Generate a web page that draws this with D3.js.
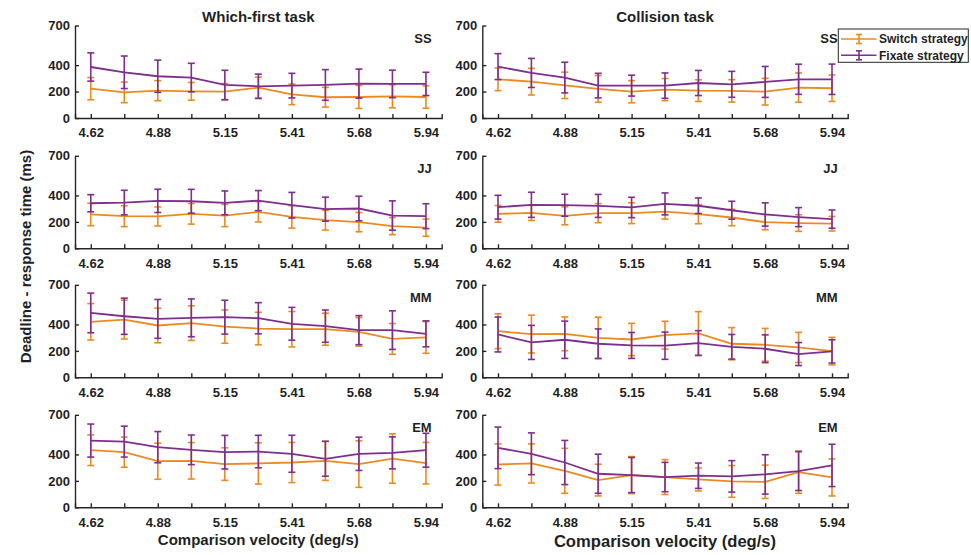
<!DOCTYPE html>
<html>
<head>
<meta charset="utf-8">
<script src="https://cdn.jsdelivr.net/npm/d3@7"></script>
<style>
  html, body { margin: 0; padding: 0; background: #fff; }
  svg text { font-family: "Liberation Sans", Arial, sans-serif; font-weight: bold; fill: #1f1f1f; }
</style>
</head>
<body>
<svg id="chart" width="971" height="555"></svg>
<script>
// Comparison velocities (deg/s) and axis ticks
const velocities = [4.62, 4.75, 4.88, 5.02, 5.15, 5.28, 5.41, 5.55, 5.68, 5.81, 5.94];
const xTickLabels = ["4.62", "4.88", "5.15", "5.41", "5.68", "5.94"];
const yTicks = [0, 200, 400, 700];
const subjects = ["SS", "JJ", "MM", "EM"];
const tasks = ["Which-first task", "Collision task"];
const seriesNames = ["Switch strategy", "Fixate strategy"];

// Which-first task: mean and error (ms)
const wfSSSwitch = [222, 194, 207, 202, 199, 230, 179, 157, 159, 164, 159];
const wfSSSwitchErr = [84, 78, 76, 67, 62, 80, 78, 75, 87, 87, 85];
const wfSSFixate = [386, 346, 316, 306, 250, 240, 245, 250, 260, 258, 258];
const wfSSFixateErr = [107, 123, 122, 108, 111, 92, 93, 116, 110, 104, 88];

const wfJJSwitch = [256, 243, 241, 261, 248, 276, 238, 213, 198, 168, 156];
const wfJJSwitchErr = [85, 79, 72, 78, 84, 77, 85, 75, 73, 65, 65];
const wfJJFixate = [341, 346, 359, 356, 344, 361, 326, 296, 301, 248, 243];
const wfJJFixateErr = [65, 93, 88, 90, 90, 76, 97, 91, 93, 111, 94];

const wfMMSwitch = [420, 437, 392, 410, 384, 369, 364, 364, 344, 291, 302];
const wfMMSwitchErr = [138, 147, 131, 131, 126, 123, 134, 121, 108, 116, 120];
const wfMMFixate = [487, 462, 442, 450, 455, 447, 405, 387, 357, 357, 329];
const wfMMFixateErr = [150, 137, 147, 143, 128, 118, 124, 122, 110, 146, 98];

const wfEMSwitch = [432, 417, 349, 352, 327, 332, 339, 352, 327, 369, 334];
const wfEMSwitchErr = [116, 114, 137, 138, 123, 156, 152, 148, 176, 187, 157];
const wfEMFixate = [505, 497, 455, 435, 417, 422, 405, 367, 405, 412, 432];
const wfEMFixateErr = [125, 117, 118, 112, 127, 123, 140, 132, 126, 121, 128];

// Collision task: mean and error (ms)
const colSSSwitch = [293, 275, 247, 220, 199, 215, 207, 205, 199, 230, 225];
const colSSSwitchErr = [86, 101, 100, 101, 84, 84, 82, 85, 101, 111, 100];
const colSSFixate = [389, 341, 306, 245, 245, 245, 265, 255, 273, 293, 293];
const colSSFixateErr = [98, 110, 116, 93, 79, 96, 95, 98, 117, 114, 115];

const colJJSwitch = [261, 268, 246, 266, 266, 278, 258, 233, 198, 191, 186];
const colJJSwitchErr = [63, 57, 68, 72, 79, 57, 72, 62, 58, 63, 55];
const colJJFixate = [311, 329, 326, 321, 309, 336, 322, 288, 256, 236, 221];
const colJJFixateErr = [90, 95, 83, 87, 77, 83, 59, 68, 88, 72, 69];

const colMMSwitch = [349, 327, 329, 299, 286, 319, 332, 254, 246, 226, 198];
const colMMSwitchErr = [132, 143, 128, 156, 122, 105, 165, 122, 124, 114, 104];
const colMMFixate = [324, 264, 284, 254, 241, 239, 259, 231, 216, 176, 196];
const colMMFixateErr = [132, 129, 141, 112, 98, 103, 94, 93, 105, 87, 88];

const colEMSwitch = [324, 332, 276, 206, 244, 229, 211, 196, 193, 266, 226];
const colEMSwitchErr = [156, 148, 170, 120, 140, 132, 87, 120, 126, 160, 140];
const colEMFixate = [450, 405, 339, 254, 244, 229, 239, 234, 249, 274, 317];
const colEMFixateErr = [157, 158, 167, 148, 133, 111, 96, 119, 149, 147, 160];

// Panel table: [task column][subject row] -> [switch, fixate] series
const panelData = [
  [
    [[wfSSSwitch, wfSSSwitchErr], [wfSSFixate, wfSSFixateErr]],
    [[wfJJSwitch, wfJJSwitchErr], [wfJJFixate, wfJJFixateErr]],
    [[wfMMSwitch, wfMMSwitchErr], [wfMMFixate, wfMMFixateErr]],
    [[wfEMSwitch, wfEMSwitchErr], [wfEMFixate, wfEMFixateErr]]
  ],
  [
    [[colSSSwitch, colSSSwitchErr], [colSSFixate, colSSFixateErr]],
    [[colJJSwitch, colJJSwitchErr], [colJJFixate, colJJFixateErr]],
    [[colMMSwitch, colMMSwitchErr], [colMMFixate, colMMFixateErr]],
    [[colEMSwitch, colEMSwitchErr], [colEMFixate, colEMFixateErr]]
  ]
];

// Layout
const colors = ["#EC8A21", "#7E2F8E"];
const axisColor = "#262626";
const colX = [[75, 441.7], [482.3, 847.7]];
const rowBottom = [118, 248.3, 377.3, 507.3];
const panelH = 92.5;
const capHalf = 3.5;

const svg = d3.select("#chart");

const y0 = d3.scaleLinear().domain([0, 700]).range([panelH, 0]);

colX.forEach((xr, c) => {
  const x = d3.scalePoint().domain(velocities).range(xr).padding(0.47);

  rowBottom.forEach((yb, r) => {
    const g = svg.append("g").attr("transform", `translate(0,${yb - panelH})`);

    // Axes
    const xAxis = d3.axisBottom(x)
      .tickValues(velocities)
      .tickFormat(v => xTickLabels.includes(v.toFixed(2)) ? v.toFixed(2) : "")
      .tickSizeInner(-4).tickSizeOuter(-4).tickPadding(10);
    const gx = g.append("g").attr("transform", `translate(0,${panelH})`).call(xAxis);

    const yAxis = d3.axisLeft(y0).tickValues(yTicks).tickFormat(d3.format("d"))
      .tickSizeInner(-4).tickSizeOuter(0).tickPadding(5);
    const gy = g.append("g").attr("transform", `translate(${xr[0]},0)`).call(yAxis);

    [gx, gy].forEach(ax => {
      ax.select(".domain").attr("stroke", axisColor).attr("stroke-width", 1.4);
      ax.selectAll(".tick line").attr("stroke", axisColor).attr("stroke-width", 1.4);
      ax.selectAll(".tick text").attr("font-size", 13).attr("font-family", null).style("fill", "#1f1f1f");
    });

    // Series: switch first, fixate drawn over it
    panelData[c][r].forEach(([means, errs], s) => {
      const pts = velocities.map((v, i) => ({ v, m: means[i], e: errs[i] }));
      const sg = g.append("g");
      sg.append("path")
        .datum(pts)
        .attr("fill", "none")
        .attr("stroke", colors[s])
        .attr("stroke-width", 1.8)
        .attr("d", d3.line().x(d => x(d.v)).y(d => y0(d.m)));

      const eb = sg.selectAll(".eb").data(pts).join("g")
        .attr("stroke", colors[s]).attr("stroke-width", 1.6);
      eb.append("line")
        .attr("x1", d => x(d.v)).attr("x2", d => x(d.v))
        .attr("y1", d => y0(d.m - d.e)).attr("y2", d => y0(d.m + d.e));
      eb.append("line")
        .attr("x1", d => x(d.v) - capHalf).attr("x2", d => x(d.v) + capHalf)
        .attr("y1", d => y0(d.m + d.e)).attr("y2", d => y0(d.m + d.e));
      eb.append("line")
        .attr("x1", d => x(d.v) - capHalf).attr("x2", d => x(d.v) + capHalf)
        .attr("y1", d => y0(d.m - d.e)).attr("y2", d => y0(d.m - d.e));
    });

    // Subject label
    g.append("text")
      .attr("x", xr[1] - 10).attr("y", 17.5)
      .attr("text-anchor", "end").attr("font-size", 13)
      .text(subjects[r]);
  });

  // Column title
  svg.append("text")
    .attr("x", (xr[0] + xr[1]) / 2).attr("y", 21.7)
    .attr("text-anchor", "middle").attr("font-size", 15)
    .text(tasks[c]);
});

// X-axis titles
svg.append("text").attr("x", 258.3).attr("y", 545).attr("text-anchor", "middle")
  .attr("font-size", 15).text("Comparison velocity (deg/s)");
svg.append("text").attr("x", 665).attr("y", 547).attr("text-anchor", "middle")
  .attr("font-size", 16.6).text("Comparison velocity (deg/s)");

// Y-axis title
svg.append("text")
  .attr("transform", "translate(31,256.5) rotate(-90)")
  .attr("text-anchor", "middle").attr("font-size", 15)
  .text("Deadline - response time (ms)");

// Legend
const lg = svg.append("g");
lg.append("rect").attr("x", 838.3).attr("y", 29).attr("width", 130).attr("height", 33.3)
  .attr("fill", "#fff").attr("stroke", axisColor).attr("stroke-width", 1);
seriesNames.forEach((name, s) => {
  const cy = 39 + s * 16.3;
  const e = lg.append("g").attr("stroke", colors[s]).attr("stroke-width", 1.6);
  e.append("line").attr("x1", 841).attr("x2", 876.5).attr("y1", cy).attr("y2", cy);
  e.append("line").attr("x1", 859).attr("x2", 859).attr("y1", cy - 4.5).attr("y2", cy + 4.5);
  e.append("line").attr("x1", 856).attr("x2", 862).attr("y1", cy - 4.5).attr("y2", cy - 4.5);
  e.append("line").attr("x1", 856).attr("x2", 862).attr("y1", cy + 4.5).attr("y2", cy + 4.5);
  lg.append("text").attr("x", 879).attr("y", cy + 4.4).attr("font-size", 12).text(name);
});
</script>
</body>
</html>
